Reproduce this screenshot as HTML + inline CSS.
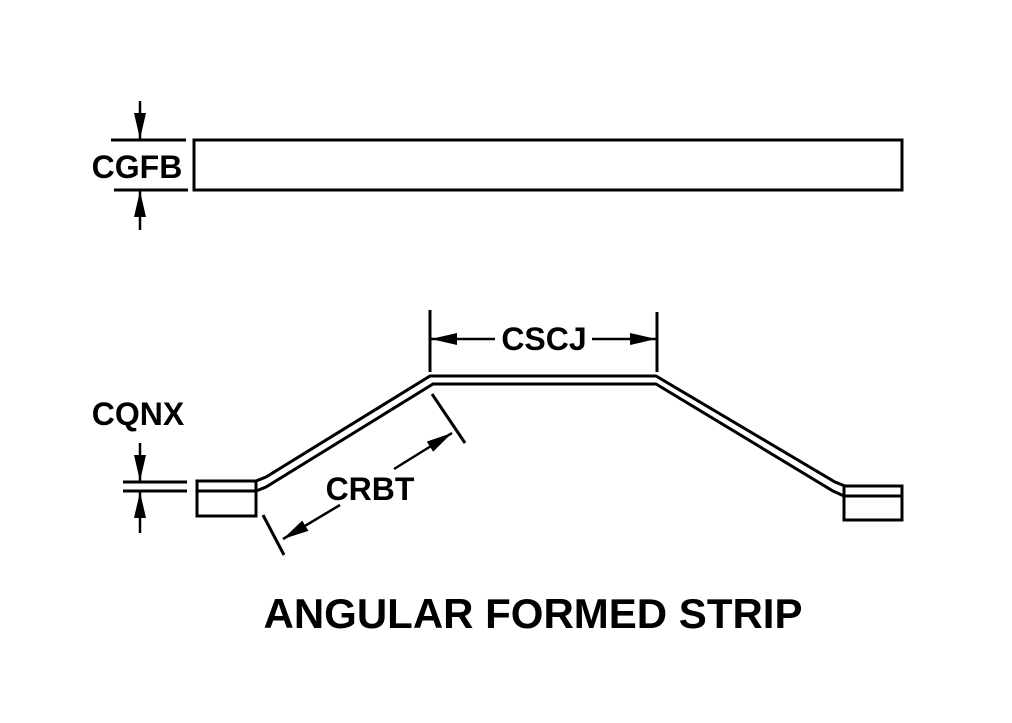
<!DOCTYPE html>
<html><head><style>html,body{margin:0;padding:0;background:#fff}svg{display:block}</style></head>
<body>
<svg width="1012" height="723" viewBox="0 0 1012 723" xmlns="http://www.w3.org/2000/svg">
<defs>
<marker id="a" viewBox="0 0 26 12" refX="26" refY="6" markerWidth="26" markerHeight="12" markerUnits="userSpaceOnUse" orient="auto"><path d="M0,0 L26,6 L0,12 z" fill="#000"/></marker>
</defs>
<g stroke="#000" stroke-width="3" fill="none">
<rect x="194" y="140" width="708" height="50"/>
<line x1="111" y1="140" x2="186" y2="140"/>
<line x1="114" y1="190" x2="188" y2="190"/>
<line x1="123" y1="482" x2="187" y2="482"/>
<line x1="123" y1="491" x2="187" y2="491"/>
<rect x="197" y="481" width="59" height="35"/>
<rect x="844" y="486" width="58" height="34"/>
<line x1="197" y1="491" x2="256" y2="491"/>
<line x1="844" y1="496" x2="902" y2="496"/>
<polyline points="256,481 266,477 430,376 656,376 835,482 845,486"/>
<polyline points="256,491 266,487 433,384 656,384 833,491 844,496"/>
<line x1="430" y1="310" x2="430" y2="372"/>
<line x1="657" y1="312" x2="657" y2="372"/>
<line x1="432" y1="394" x2="465" y2="443"/>
<line x1="263" y1="515" x2="284" y2="555"/>
</g>
<g stroke="#000" stroke-width="2.5" fill="none">
<line x1="140" y1="101" x2="140" y2="139" marker-end="url(#a)"/>
<line x1="140" y1="230" x2="140" y2="191" marker-end="url(#a)"/>
<line x1="140" y1="443" x2="140" y2="481" marker-end="url(#a)"/>
<line x1="140" y1="533" x2="140" y2="492" marker-end="url(#a)"/>
<line x1="495" y1="339" x2="431" y2="339" marker-end="url(#a)"/>
<line x1="592" y1="339" x2="656" y2="339" marker-end="url(#a)"/>
<line x1="394" y1="469" x2="452" y2="433" marker-end="url(#a)"/>
<line x1="340" y1="505" x2="283" y2="539" marker-end="url(#a)"/>
</g>
<g font-family="Liberation Sans, sans-serif" font-weight="bold" fill="#000">
<text x="137" y="178" font-size="32" text-anchor="middle">CGFB</text>
<text x="138" y="425" font-size="32" text-anchor="middle">CQNX</text>
<text x="544" y="350" font-size="32" text-anchor="middle">CSCJ</text>
<text x="370" y="500" font-size="32" text-anchor="middle">CRBT</text>
<text x="533" y="628" font-size="42" text-anchor="middle">ANGULAR FORMED STRIP</text>
</g>
</svg>
</body></html>
